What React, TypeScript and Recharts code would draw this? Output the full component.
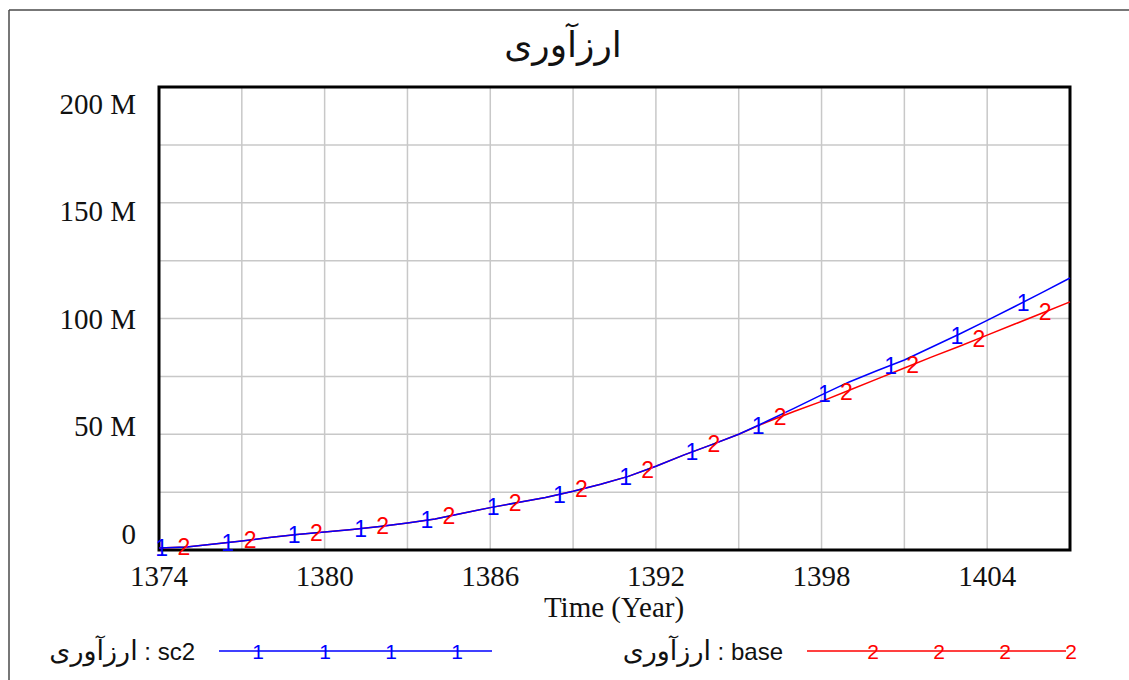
import { LineChart, Line, XAxis, YAxis, CartesianGrid, ReferenceArea, ReferenceDot } from 'recharts';

const YEARS = [
  1374, 1375, 1376, 1377, 1378, 1379, 1380, 1381, 1382, 1383, 1384, 1385,
  1386, 1387, 1388, 1389, 1390, 1391, 1392, 1393, 1394, 1395, 1396, 1397,
  1398, 1399, 1400, 1401, 1402, 1403, 1404, 1405, 1406, 1407,
];

// millions
const SC2 = [
  0.9, 1.3, 2.6, 3.9, 5.4, 6.7, 7.8, 8.9, 10.2, 11.7, 13.4, 15.9,
  18.3, 20.5, 22.7, 25.4, 28.4, 31.8, 36.2, 41.0, 45.4, 50.0, 55.5, 61.2,
  67.0, 72.6, 77.4, 82.1, 87.7, 93.3, 99.2, 105.2, 111.3, 117.5,
];
const BASE = [
  0.9, 1.3, 2.6, 3.9, 5.4, 6.7, 7.8, 8.9, 10.2, 11.7, 13.4, 15.9,
  18.3, 20.5, 22.7, 25.4, 28.4, 31.8, 36.2, 41.0, 45.4, 50.0, 55.2, 59.8,
  64.2, 69.0, 73.8, 78.6, 83.4, 88.0, 92.8, 97.6, 102.4, 107.2,
];

const X_TICKS = [1374, 1377, 1380, 1383, 1386, 1389, 1392, 1395, 1398, 1401, 1404, 1407];
const Y_TICKS = [0, 25, 50, 75, 100, 125, 150, 175, 200];

// where Vensim put its "1" / "2" line markers
const SC2_MARKS = [1374.1, 1376.5, 1378.9, 1381.3, 1383.7, 1386.1, 1388.5, 1390.9, 1393.3, 1395.7, 1398.1, 1400.5, 1402.9, 1405.3];
const BASE_MARKS = [1374.9, 1377.3, 1379.7, 1382.1, 1384.5, 1386.9, 1389.3, 1391.7, 1394.1, 1396.5, 1398.9, 1401.3, 1403.7, 1406.1];

const TITLE = 'ارزآوری';
const X_LABEL = 'Time (Year)';

const data = YEARS.map((year, i) => ({ year, sc2: SC2[i], base: BASE[i] }));

function valueAt(series: number[], year: number) {
  const i = Math.min(Math.floor(year - YEARS[0]), YEARS.length - 2);
  const t = year - YEARS[i];
  return series[i] + (series[i + 1] - series[i]) * t;
}

const SERIF = '"Liberation Serif", "DejaVu Sans", serif';
const SANS = '"Liberation Sans", "DejaVu Sans", sans-serif';
const ARABIC = '"DejaVu Sans", sans-serif';

const YTick = (props: any) => {
  const { x, y, payload } = props;
  const v = payload.value;
  if (v % 50 !== 0) return <g />;
  const shift = ((v - 100) / 100) * 16.5;
  return (
    <text x={x} y={y + shift} dy="0.35em" textAnchor="end" fontSize={29} fontFamily={SERIF} fill="#111">
      {v === 0 ? '0' : `${v} M`}
    </text>
  );
};

const XTick = (props: any) => {
  const { x, y, payload } = props;
  const v = payload.value;
  if ((v - 1374) % 6 !== 0) return <g />;
  return (
    <text x={x} y={y + 36} textAnchor="middle" fontSize={29} fontFamily={SERIF} fill="#111">
      {v}
    </text>
  );
};

const markShape = (label: string, color: string) => (p: any) => (
  <text x={p.cx} y={p.cy} dy="0.36em" textAnchor="middle" fontSize={23} fontFamily={SANS} fill={color}>
    {label}
  </text>
);

const LegendLabel = ({ right, name }: { right: number; name: string }) => (
  <text x={right} y={660} textAnchor="end" fill="#111">
    <tspan fontSize={27} fontFamily={ARABIC}>{TITLE}</tspan>
    <tspan fontSize={24} fontFamily={SANS}>{` : ${name}`}</tspan>
  </text>
);

export default function App() {
  return (
    <div style={{ position: 'absolute', left: 0, top: 0, width: 1129, height: 680, overflow: 'hidden', background: '#fff' }}>
      <LineChart width={1129} height={680} data={data} margin={{ top: 87, right: 59, bottom: 100, left: 79 }}>
        <CartesianGrid stroke="#c8c8c8" strokeWidth={1.5} />
        <XAxis
          dataKey="year"
          type="number"
          domain={[1374, 1407]}
          ticks={X_TICKS}
          height={30}
          axisLine={false}
          tickLine={false}
          tickSize={0}
          tickMargin={0}
          tick={<XTick />}
          interval={0}
        />
        <YAxis
          type="number"
          domain={[0, 200]}
          ticks={Y_TICKS}
          width={80}
          axisLine={false}
          tickLine={false}
          tickSize={0}
          tickMargin={23}
          tick={<YTick />}
          interval={0}
        />
        <Line dataKey="base" stroke="#ff0000" strokeWidth={1.5} dot={false} isAnimationActive={false} />
        <Line dataKey="sc2" stroke="#0000ff" strokeWidth={1.5} dot={false} isAnimationActive={false} />
        {BASE_MARKS.map((yr) => (
          <ReferenceDot key={'b' + yr} x={yr} y={valueAt(BASE, yr)} shape={markShape('2', '#ff0000')} />
        ))}
        {SC2_MARKS.map((yr) => (
          <ReferenceDot key={'s' + yr} x={yr} y={valueAt(SC2, yr)} shape={markShape('1', '#0000ff')} />
        ))}
        <ReferenceArea x1={1374} x2={1407} y1={0} y2={200} fill="none" stroke="#000" strokeWidth={3} />
      </LineChart>

      {/* frame, title, axis label, legend */}
      <svg width={1129} height={680} style={{ position: 'absolute', left: 0, top: 0, pointerEvents: 'none' }}>
        <line x1={9} y1={10} x2={9} y2={680} stroke="#4a4a4a" strokeWidth={1.5} />
        <line x1={9} y1={10} x2={1129} y2={10} stroke="#4a4a4a" strokeWidth={1.5} />
        <text x={563} y={57} textAnchor="middle" fontSize={36} fontFamily={ARABIC} fill="#111">
          {TITLE}
        </text>
        <text x={614} y={617} textAnchor="middle" fontSize={29} fontFamily={SERIF} fill="#111">
          {X_LABEL}
        </text>

        <LegendLabel right={195} name="sc2" />
        <line x1={219} y1={651} x2={492} y2={651} stroke="#0000ff" strokeWidth={1.5} />
        {[258, 325, 391, 457].map((x) => (
          <text key={x} x={x} y={651} dy="0.36em" textAnchor="middle" fontSize={21} fontFamily={SANS} fill="#0000ff">1</text>
        ))}

        <LegendLabel right={783} name="base" />
        <line x1={807} y1={651} x2={1066} y2={651} stroke="#ff0000" strokeWidth={1.5} />
        {[873, 939, 1005, 1071].map((x) => (
          <text key={x} x={x} y={651} dy="0.36em" textAnchor="middle" fontSize={21} fontFamily={SANS} fill="#ff0000">2</text>
        ))}
      </svg>
    </div>
  );
}
